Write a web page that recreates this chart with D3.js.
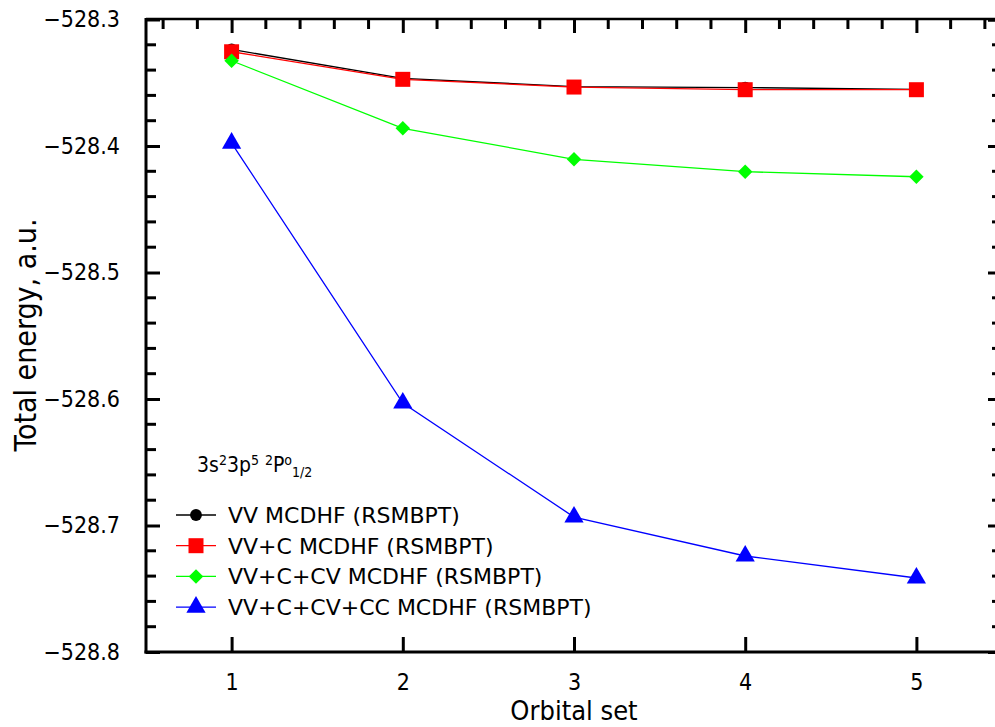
<!DOCTYPE html>
<html><head><meta charset="utf-8">
<script src="https://cdn.jsdelivr.net/npm/d3@7"></script>
<style>
body{margin:0;background:#fff;}
text{font-family:"DejaVu Sans Condensed","DejaVu Sans",sans-serif;fill:#000;}
</style></head><body>
<svg id="c" width="995" height="727"></svg>
<script>
const orbitalSets = [1, 2, 3, 4, 5];
const vv       = [-528.3237, -528.3466, -528.3530, -528.3538, -528.3553];
const vvC      = [-528.3255, -528.3473, -528.3534, -528.3555, -528.3555];
const vvCCV    = [-528.3326, -528.3860, -528.4105, -528.4203, -528.4243];
const vvCCVCC  = [-528.3977, -528.6032, -528.6933, -528.7241, -528.7415];
const seriesNames = ["VV MCDHF (RSMBPT)", "VV+C MCDHF (RSMBPT)", "VV+C+CV MCDHF (RSMBPT)", "VV+C+CV+CC MCDHF (RSMBPT)"];
const seriesColors = ["#000000", "#ff0000", "#00ff00", "#0000ff"];
const seriesSymbols = ["circle", "square", "diamond", "triangle"];
const yTicks = [-528.8, -528.7, -528.6, -528.5, -528.4, -528.3];
const xTitle = "Orbital set";
const yTitle = "Total energy, a.u.";

const svg = d3.select("#c");
const x = d3.scaleLinear().domain([0.5, 5.5]).range([146, 1002]);
const y = d3.scaleLinear().domain([-528.8, -528.3]).range([652, 19.5]);

const fmt = d => "\u2212" + Math.abs(d).toFixed(1);

// left axis
const gL = svg.append("g").attr("transform", "translate(146,0)");
gL.call(d3.axisLeft(y).tickValues(yTicks).tickFormat(fmt).tickSize(-14).tickPadding(26));
gL.selectAll("text").style("font-size", "23px");
gL.select(".domain").remove();
gL.selectAll(".tick line").attr("stroke-width", 3);
const minorY = d3.range(0, 26).map(i => -528.8 + i * 0.02).filter(v => !yTicks.some(t => Math.abs(t - v) < 1e-6));
gL.selectAll(".minor").data(minorY).enter().append("line")
  .attr("x1", 0).attr("x2", 10).attr("y1", d => y(d)).attr("y2", d => y(d))
  .attr("stroke", "#000").attr("stroke-width", 3);

// right axis (off canvas), ticks inward
const gR = svg.append("g").attr("transform", "translate(1002,0)");
gR.call(d3.axisRight(y).tickValues(yTicks).tickFormat("").tickSize(-14));
gR.selectAll(".tick line").attr("stroke-width", 3);
gR.select(".domain").attr("stroke-width", 3);
gR.selectAll(".minor").data(minorY).enter().append("line")
  .attr("x1", 0).attr("x2", -10).attr("y1", d => y(d)).attr("y2", d => y(d))
  .attr("stroke", "#000").attr("stroke-width", 3);

// bottom axis
const gB = svg.append("g").attr("transform", "translate(0,652)");
gB.call(d3.axisBottom(x).tickValues(orbitalSets).tickFormat(d3.format("d")).tickSize(-15).tickPadding(22));
gB.selectAll("text").style("font-size", "23px");
gB.select(".domain").remove();
gB.selectAll(".tick line").attr("stroke-width", 3);

// top axis
const gT = svg.append("g").attr("transform", "translate(0,19)");
gT.call(d3.axisTop(x).tickValues(orbitalSets).tickFormat("").tickSize(-14));
gT.select(".domain").remove();
gT.selectAll(".tick line").attr("stroke-width", 3);
const minorX = d3.range(0, 26).map(i => 0.6 + i * 0.2).filter(v => v < 5.5 && !orbitalSets.some(t => Math.abs(t - v) < 1e-6));
gT.selectAll(".minor").data(minorX).enter().append("line")
  .attr("x1", d => x(d)).attr("x2", d => x(d)).attr("y1", 0).attr("y2", 10)
  .attr("stroke", "#000").attr("stroke-width", 3);

// frame lines
svg.append("line").attr("x1", 146).attr("x2", 1002).attr("y1", 19).attr("y2", 19).attr("stroke", "#000").attr("stroke-width", 2.5);
svg.append("line").attr("x1", 146).attr("x2", 146).attr("y1", 18).attr("y2", 653.5).attr("stroke", "#000").attr("stroke-width", 3);
svg.append("line").attr("x1", 144.5).attr("x2", 1002).attr("y1", 652).attr("y2", 652).attr("stroke", "#000").attr("stroke-width", 3);

// symbols
const symMap = {circle: d3.symbolCircle, square: d3.symbolSquare, diamond: d3.symbolSquare, triangle: d3.symbolTriangle};
const symSize = {circle: 110, square: 225, diamond: 105, triangle: 160};
const symRot = {circle: 0, square: 0, diamond: 45, triangle: 0};

const allSeries = [vv, vvC, vvCCV, vvCCVCC];
const line = d3.line().x((d, i) => x(orbitalSets[i])).y(d => y(d));
allSeries.forEach((vals, si) => {
  const s = seriesSymbols[si];
  svg.append("path").attr("d", line(vals)).attr("fill", "none")
    .attr("stroke", seriesColors[si]).attr("stroke-width", 1.3);
  svg.selectAll(".pt" + si).data(vals).enter().append("path")
    .attr("d", d3.symbol().type(symMap[s]).size(symSize[s]))
    .attr("transform", (d, i) => `translate(${x(orbitalSets[i])},${y(d)}) rotate(${symRot[s]})`)
    .attr("fill", seriesColors[si]);
});

// annotation
const ann = svg.append("text").attr("x", 197).attr("y", 472).style("font-family", "DejaVu Sans Condensed").style("font-size", "21px");
const sup = 14;
ann.append("tspan").text("3s");
ann.append("tspan").attr("dy", -7).style("font-size", sup + "px").text("2");
ann.append("tspan").attr("dy", 7).text("3p");
ann.append("tspan").attr("dy", -7).style("font-size", sup + "px").text("5");
ann.append("tspan").attr("dy", 7).text(" ");
ann.append("tspan").attr("dy", -7).style("font-size", sup + "px").text("2");
ann.append("tspan").attr("dy", 7).text("P");
ann.append("tspan").attr("dy", -7).style("font-size", sup + "px").text("o");
ann.append("tspan").attr("dy", 12).style("font-size", sup + "px").text("1/2");

// legend
const legY0 = 515, legDy = 30.7;
seriesNames.forEach((name, si) => {
  const s = seriesSymbols[si];
  const ly = legY0 + si * legDy;
  svg.append("line").attr("x1", 176).attr("x2", 216).attr("y1", ly).attr("y2", ly)
    .attr("stroke", seriesColors[si]).attr("stroke-width", 1.3);
  svg.append("path").attr("d", d3.symbol().type(symMap[s]).size(symSize[s]))
    .attr("transform", `translate(196,${ly}) rotate(${symRot[s]})`).attr("fill", seriesColors[si]);
  svg.append("text").attr("x", 228).attr("y", ly + 8).style("font-family", "DejaVu Sans").style("font-size", "22px").text(name);
});

// axis titles
svg.append("text").attr("x", 574).attr("y", 720).attr("text-anchor", "middle").style("font-size", "27px").text(xTitle);
svg.append("text").attr("transform", "translate(36,335) rotate(-90)").attr("text-anchor", "middle").style("font-size", "30px").text(yTitle);
</script>
</body></html>
